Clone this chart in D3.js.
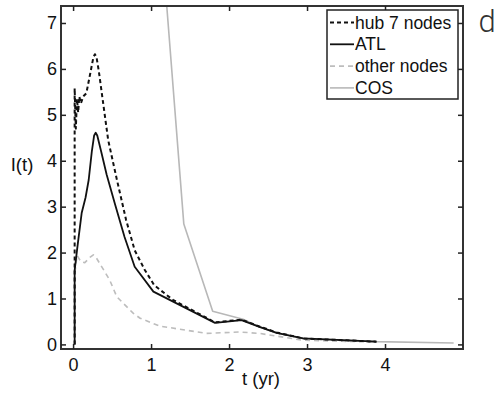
<!DOCTYPE html>
<html><head><meta charset="utf-8">
<script src="https://cdn.jsdelivr.net/npm/d3@7"></script>
<style>body{margin:0;background:#fff}svg{display:block}text{font-family:"Liberation Sans",Arial,sans-serif}
text.panel{font-family:"Roboto","Lato","Open Sans",sans-serif;font-weight:300}</style>
</head><body>
<svg id="c" width="502" height="400"></svg>
<script>
const hubT = [0.02,0.02,0.035,0.05,0.065,0.08,0.1,0.13,0.17,0.22,0.26,0.28,0.30,0.33,0.45,0.56,0.68,0.79,0.92,1.04,1.28,1.82,2.16,2.39,2.61,2.95,3.89];
const hubI = [0,5.58,4.7,5.35,5.05,5.4,5.25,5.4,5.47,5.9,6.25,6.32,6.26,5.95,4.45,3.6,2.71,2.05,1.62,1.29,0.97,0.48,0.54,0.39,0.26,0.13,0.06];
const atlT = [0.02,0.02,0.056,0.11,0.16,0.2,0.24,0.27,0.29,0.31,0.36,0.43,0.535,0.66,0.79,1.03,1.82,2.16,2.39,2.61,2.95,3.89];
const atlI = [0,1.62,2.13,2.86,3.2,3.58,4.2,4.55,4.61,4.55,4.2,3.7,3.07,2.34,1.69,1.15,0.47,0.53,0.38,0.25,0.13,0.06];
const othT = [0.02,0.02,0.05,0.1,0.15,0.22,0.26,0.3,0.47,0.56,0.77,0.86,1.11,1.71,2.14,2.39,2.95,3.89];
const othI = [0,1.5,1.94,1.8,1.78,1.9,1.95,1.88,1.4,1.04,0.68,0.57,0.4,0.24,0.27,0.24,0.09,0.05];
const cosT = [1.02,1.42,1.79,2.18,2.39,2.61,2.95,3.89,4.88];
const cosI = [11.3,2.62,0.72,0.55,0.38,0.25,0.13,0.06,0.03];
const xTicks = [0,1,2,3,4];
const yTicks = [0,1,2,3,4,5,6,7];
const legendLabels = ["hub 7 nodes","ATL","other nodes","COS"];

const svg = d3.select("#c");
const L=61,R=463,T=6,B=349;
const x = d3.scaleLinear().domain([-0.155,5.0]).range([L,R]);
const y = d3.scaleLinear().domain([-0.1,7.37]).range([B,T]);

svg.append("defs").append("clipPath").attr("id","cp").append("rect")
  .attr("x",L).attr("y",T).attr("width",R-L).attr("height",B-T);

const line = d3.line().x(d=>x(d[0])).y(d=>y(d[1]));
const g = svg.append("g").attr("clip-path","url(#cp)");
const series = [
  {t:cosT,v:cosI,stroke:"#b8b8b8",w:1.6,dash:null},
  {t:othT,v:othI,stroke:"#bdbdbd",w:1.6,dash:"5,4"},
  {t:hubT,v:hubI,stroke:"#111",w:2,dash:"4,3"},
  {t:atlT,v:atlI,stroke:"#111",w:1.8,dash:null}
];
series.forEach(s=>{
  g.append("path").datum(s.t.map((t,i)=>[t,s.v[i]]))
   .attr("d",line).attr("fill","none").attr("stroke",s.stroke)
   .attr("stroke-width",s.w).attr("stroke-dasharray",s.dash)
   .attr("stroke-linejoin","round");
});

svg.append("rect").attr("x",L).attr("y",T).attr("width",R-L).attr("height",B-T)
  .attr("fill","none").attr("stroke","#333").attr("stroke-width",2);
const bAx = svg.append("g").attr("transform",`translate(0,${B})`)
  .call(d3.axisBottom(x).tickValues(xTicks).tickSize(-5).tickPadding(9).tickFormat(d3.format("d")));
const tAx = svg.append("g").attr("transform",`translate(0,${T})`)
  .call(d3.axisTop(x).tickValues(xTicks).tickSize(-5).tickFormat(""));
const lAx = svg.append("g").attr("transform",`translate(${L},0)`)
  .call(d3.axisLeft(y).tickValues(yTicks).tickSize(-5).tickPadding(4).tickFormat(d3.format("d")));
const rAx = svg.append("g").attr("transform",`translate(${R},0)`)
  .call(d3.axisRight(y).tickValues(yTicks).tickSize(-5).tickFormat(""));
[bAx,tAx,lAx,rAx].forEach(a=>{
  a.select(".domain").remove();
  a.selectAll(".tick line").attr("stroke","#222").attr("stroke-width",1.5);
  a.selectAll(".tick text").attr("font-size",18).attr("fill","#111");
});

svg.append("text").attr("x",261).attr("y",385).attr("text-anchor","middle")
  .attr("font-size",18.5).attr("fill","#111").text("t (yr)");
svg.append("text").attr("x",22).attr("y",171).attr("text-anchor","middle")
  .attr("font-size",18.5).attr("fill","#111").text("I(t)");
svg.append("text").attr("class","panel").attr("x",487).attr("y",32).attr("text-anchor","middle")
  .attr("font-size",31).attr("fill","#333").text("d");

const lg = svg.append("g");
lg.append("rect").attr("x",327).attr("y",10).attr("width",131).attr("height",89)
  .attr("fill","#fff").attr("stroke","#222").attr("stroke-width",1.5);
const legS = [series[2],series[3],series[1],series[0]];
legendLabels.forEach((lab,i)=>{
  const yy = 22.5 + i*21.8;
  const s = legS[i];
  lg.append("line").attr("x1",330).attr("x2",354).attr("y1",yy).attr("y2",yy)
    .attr("stroke",s.stroke).attr("stroke-width",s.w).attr("stroke-dasharray",s.dash);
  lg.append("text").attr("x",355).attr("y",yy).attr("dy","0.35em")
    .attr("font-size",17.5).attr("fill","#111").text(lab);
});
</script>
</body></html>
